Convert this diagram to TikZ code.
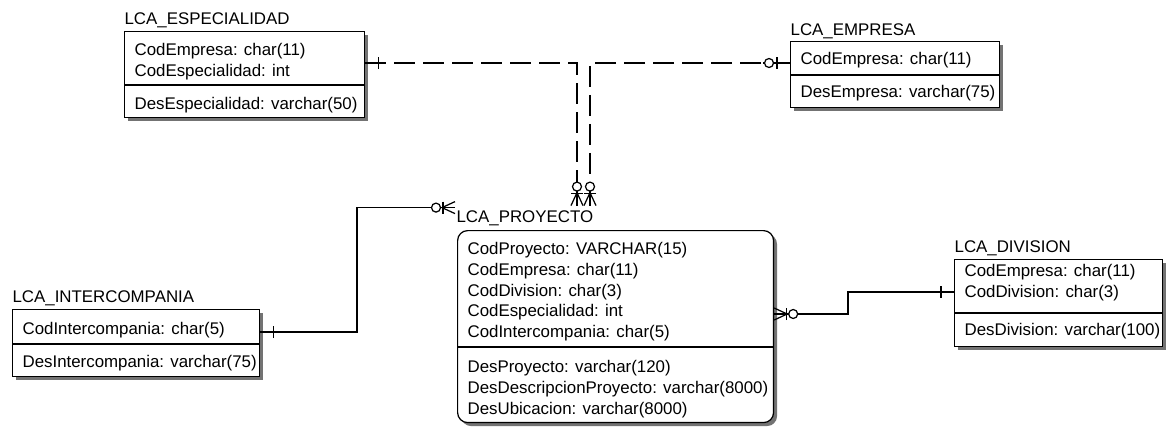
\documentclass[tikz,border=0pt]{standalone}
\usepackage{fontspec}
\setmainfont{Liberation Sans}
\usetikzlibrary{shadows}

\begin{document}
\begin{tikzpicture}[
  x=0.02cm, y=-0.02cm,
  line width=0.7pt,
  entity/.style={draw, fill=white, anchor=north west, inner sep=0pt,
    drop shadow={shadow xshift=0.07cm, shadow yshift=-0.07cm,
      fill=black!55, opacity=1}},
  title/.style={anchor=base west, inner sep=0pt,
    font=\fontsize{9.6}{11.5}\selectfont},
  attr/.style={anchor=base west, inner sep=0pt,
    font=\fontsize{9.6}{11.5}\selectfont},
  rel/.style={line width=0.7pt},
  idrel/.style={rel, dash pattern=on 12pt off 4.5pt},
  oneend/.pic={
    \draw[rel, solid] (-13,-6) -- (-13,6);
  },
  zerooneend/.pic={
    \draw[rel, solid] (-27,0) -- (0,0);
    \draw[rel, solid] (-13,-6) -- (-13,6);
    \draw[rel, solid, fill=white] (-21,0) circle[radius=4.5];
  },
  zeromanyend/.pic={
    \draw[rel, solid] (-16,0) -- (0,0);
    \draw[rel, solid] (-13,0) -- (0,-6) (-13,0) -- (0,6);
    \draw[rel, solid] (-12,-6) -- (-12,6);
    \draw[rel, solid, fill=white] (-19,0) circle[radius=4.5];
  }
]

\useasboundingbox (0,0) rectangle (1166,426);

% ------------------------------------------------------------
% LCA_ESPECIALIDAD
% ------------------------------------------------------------
\node[entity, minimum width=4.8cm, minimum height=1.72cm] (esp) at (124,31) {};
\node[title] (esp-t) at (124,24) {LCA\_ESPECIALIDAD};
\draw (esp.west |- 0,85) -- (esp.east |- 0,85);
\node[attr] (esp-k1) at (134,55) {CodEmpresa: char(11)};
\node[attr] (esp-k2) at (134,76) {CodEspecialidad: int};
\node[attr] (esp-a1) at (134,109) {DesEspecialidad: varchar(50)};

% ------------------------------------------------------------
% LCA_EMPRESA
% ------------------------------------------------------------
\node[entity, minimum width=4.18cm, minimum height=1.32cm] (emp) at (790,41) {};
\node[title] (emp-t) at (790,35) {LCA\_EMPRESA};
\draw (emp.west |- 0,75) -- (emp.east |- 0,75);
\node[attr] (emp-k1) at (800,64) {CodEmpresa: char(11)};
\node[attr] (emp-a1) at (800,97) {DesEmpresa: varchar(75)};

% ------------------------------------------------------------
% LCA_INTERCOMPANIA
% ------------------------------------------------------------
\node[entity, minimum width=4.94cm, minimum height=1.34cm] (inter) at (12,309) {};
\node[title] (inter-t) at (12,302) {LCA\_INTERCOMPANIA};
\draw (inter.west |- 0,344) -- (inter.east |- 0,344);
\node[attr] (inter-k1) at (22,334) {CodIntercompania: char(5)};
\node[attr] (inter-a1) at (22,367) {DesIntercompania: varchar(75)};

% ------------------------------------------------------------
% LCA_PROYECTO
% ------------------------------------------------------------
\node[entity, rounded corners=0.2cm, minimum width=6.32cm, minimum height=3.84cm] (proy) at (457,230) {};
\node[title] (proy-t) at (456,222) {LCA\_PROYECTO};
\draw (proy.west |- 0,347) -- (proy.east |- 0,347);
\node[attr] (proy-k1) at (467,254) {CodProyecto: VARCHAR(15)};
\node[attr] (proy-k2) at (467,275) {CodEmpresa: char(11)};
\node[attr] (proy-k3) at (467,296) {CodDivision: char(3)};
\node[attr] (proy-k4) at (467,316) {CodEspecialidad: int};
\node[attr] (proy-k5) at (467,337) {CodIntercompania: char(5)};
\node[attr] (proy-a1) at (467,372) {DesProyecto: varchar(120)};
\node[attr] (proy-a2) at (467,393) {DesDescripcionProyecto: varchar(8000)};
\node[attr] (proy-a3) at (467,414) {DesUbicacion: varchar(8000)};

% ------------------------------------------------------------
% LCA_DIVISION
% ------------------------------------------------------------
\node[entity, minimum width=4.16cm, minimum height=1.74cm] (div) at (954,259) {};
\node[title] (div-t) at (954,252) {LCA\_DIVISION};
\draw (div.west |- 0,313) -- (div.east |- 0,313);
\node[attr] (div-k1) at (964,276) {CodEmpresa: char(11)};
\node[attr] (div-k2) at (964,297) {CodDivision: char(3)};
\node[attr] (div-a1) at (964,335) {DesDivision: varchar(100)};

% ------------------------------------------------------------
% Relationships
% ------------------------------------------------------------
\coordinate (proy-in) at ([shift={(0,-4)}]proy-t.north);
\coordinate (proy-side) at ([shift={(-1,-2)}]proy-t.north west);

% especialidad - proyecto
\draw[idrel] (esp.east |- 0,63) -- (577,63) -- (577,0 |- proy-in);
\pic[rotate=180] at (esp.east |- 0,63) {oneend};
\pic[rotate=-90] at (577,0 |- proy-in) {zeromanyend};

% empresa - proyecto
\draw[idrel] (emp.west |- 0,63) -- (590,63) -- (590,0 |- proy-in);
\pic at (emp.west |- 0,63) {zerooneend};
\pic[rotate=-90] at (590,0 |- proy-in) {zeromanyend};

% intercompania - proyecto
\draw[rel] (inter.east |- 0,332) -- (357,332) -- (357,0 |- proy-side)
  -- (proy-side);
\pic[rotate=180] at (inter.east |- 0,332) {oneend};
\pic at (proy-side) {zeromanyend};

% division - proyecto
\draw[rel] (div.west |- 0,292) -- (848,292) -- (848,314) -- (proy.east |- 0,314);
\pic at (div.west |- 0,292) {oneend};
\pic[rotate=180] at (proy.east |- 0,314) {zeromanyend};

\end{tikzpicture}
\end{document}
